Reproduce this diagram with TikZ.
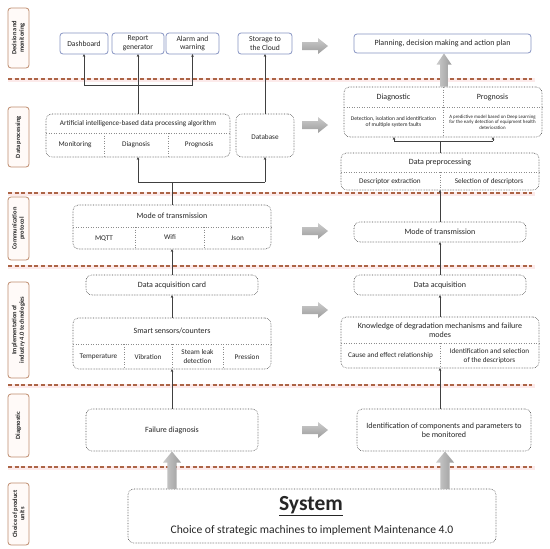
\documentclass[tikz,border=0pt]{standalone}
\usepackage{fontspec}
\setmainfont{Carlito}
\usetikzlibrary{arrows.meta}
\newcommand\myfs[1]{\fontsize{#1pt}{1.16\dimexpr#1pt\relax}\selectfont}
\newcommand\RArr[1]{\shade[top color=gray!40, bottom color=gray!78] (302,#1-4) -- (318,#1-4) -- (318,#1-8) -- (328,#1) -- (318,#1+8) -- (318,#1+4) -- (302,#1+4) -- cycle;}
\newcommand\UArr[5]{\shade[left color=gray!40, right color=gray!78] (#1-#4,#2) -- (#1-#4,#3+11) -- (#1-#5,#3+11) -- (#1,#3) -- (#1+#5,#3+11) -- (#1+#4,#3+11) -- (#1+#4,#2) -- cycle;}
\begin{document}
\begin{tikzpicture}[x=1pt,y=-1pt,
  every node/.style={inner sep=0pt, outer sep=0pt, text=black!85},
  tbox/.style={draw={rgb,255:red,135;green,148;blue,195}, line width=0.8pt, rounded corners=3pt, fill=white, align=center, font=\myfs{7.6}},
  dbox/.style={draw=black!70, densely dotted, line width=0.6pt, rounded corners=6pt},
  div/.style={draw=black!45, dotted, line width=0.5pt},
  lab/.style={draw={rgb,255:red,190;green,140;blue,110}, fill={rgb,255:red,255;green,250;blue,248}, rounded corners=3pt, line width=0.8pt, rotate=90, align=center, font=\bfseries\myfs{6.4}, minimum height=21pt},
  hd/.style={align=center, font=\myfs{8}},
  cell/.style={align=center, font=\myfs{7.2}},
  con/.style={draw=black!75, line width=0.7pt},
  arr/.style={con, -{Stealth[length=3pt,width=2.6pt]}},
  sepline/.style={draw={rgb,255:red,172;green,100;blue,70}, line width=1.1pt, dash pattern=on 4pt off 2.6pt},
  halo/.style={draw={rgb,255:red,252;green,234;blue,234}, line width=4pt}
]
\fill[white] (0,0) rectangle (550,549);
\useasboundingbox (0,0) rectangle (550,549);

% separators
\foreach \yy in {79,193,266,385,467} {
  \draw[halo] (8,\yy+1) -- (535,\yy+1);
  \draw[sepline] (8,\yy) -- (532,\yy);
}

% left labels
\node[lab, minimum width=60pt] (l1) at (18.5,38) {Decision and\\monitoring};
\node[lab, minimum width=60pt] (l2) at (18.5,137) {Data processing};
\node[lab, minimum width=63pt] (l3) at (18.5,228.5) {Communication\\protocol};
\node[lab, minimum width=96pt] (l4) at (18.5,330) {Implementation of\\industry 4.0 technologies};
\node[lab, minimum width=63pt] (l5) at (18.5,425.5) {Diagnostic};
\node[lab, minimum width=62pt] (l6) at (18.5,514) {Choice of product\\units};

% top row
\node[tbox, minimum width=48pt, minimum height=21pt] (dash) at (84,43.5) {Dashboard};
\node[tbox, minimum width=52pt, minimum height=21pt] (rep) at (138,43.5) {Report\\generator};
\node[tbox, minimum width=53pt, minimum height=21pt] (alarm) at (192.5,43.5) {Alarm and\\warning};
\node[tbox, minimum width=54pt, minimum height=21pt] (store) at (265,43.5) {Storage to\\the Cloud};
\node[tbox, minimum width=177pt, minimum height=19pt, font=\myfs{8}] (plan) at (442.5,43.5) {Planning, decision making and action plan};

% AI box
\node[dbox, minimum width=184pt, minimum height=43pt] (ai) at (138,135.5) {};
\draw[div] (46,133) -- (230,133);
\draw[div] (104,133) -- (104,157);
\draw[div] (168,133) -- (168,157);
\node[cell] (aih) at (138,123.5) {Artificial intelligence-based data processing algorithm};
\node[cell] (aim) at (75,145) {Monitoring};
\node[cell] (aid) at (136,145) {Diagnosis};
\node[cell] (aip) at (199,145) {Prognosis};
% database
\node[dbox, minimum width=58pt, minimum height=43pt] (db) at (265,135.5) {};
\node[cell] (dbt) at (265,137) {Database};

% diagnostic / prognosis
\node[dbox, minimum width=198pt, minimum height=50pt] (dp) at (443,112) {};
\draw[div] (344,107) -- (542,107);
\draw[div] (443,87) -- (443,137);
\node[hd] (dph1) at (393.5,97) {Diagnostic};
\node[hd] (dph2) at (492.5,97) {Prognosis};
\node[align=center, font=\myfs{5.6}] (dpt1) at (393.5,122) {Detection, isolation and identification\\of multiple system faults};
\node[align=center, font=\myfs{4.9}] (dpt2) at (492.5,122) {A predictive model based on Deep Learning\\for the early detection of equipment health\\deterioration};

% data preprocessing
\node[dbox, minimum width=198pt, minimum height=37pt] (prep) at (440,171.5) {};
\draw[div] (341,172) -- (539,172);
\draw[div] (440,172) -- (440,190);
\node[hd] (preph) at (440,162) {Data preprocessing};
\node[cell] (prep1) at (390,181.5) {Descriptor extraction};
\node[cell] (prep2) at (489,181.5) {Selection of descriptors};

% mode of transmission left
\node[dbox, minimum width=198pt, minimum height=44pt] (modeL) at (172,227) {};
\draw[div] (73,227) -- (271,227);
\draw[div] (135,227) -- (135,249);
\draw[div] (204,227) -- (204,249);
\node[hd] (modeLh) at (172,216) {Mode of transmission};
\node[cell] (mqtt) at (104,238.5) {MQTT};
\node[cell] (wifi) at (170,237.5) {Wifi};
\node[cell] (json) at (237.5,238.5) {Json};

% mode of transmission right
\node[dbox, minimum width=172pt, minimum height=20pt] (modeR) at (440,232) {};
\node[hd] (modeRt) at (440,232) {Mode of transmission};

% data acquisition
\node[dbox, minimum width=172pt, minimum height=20pt] (card) at (172,285) {};
\node[hd] (cardt) at (172,285) {Data acquisition card};
\node[dbox, minimum width=172pt, minimum height=20pt] (acq) at (440,285) {};
\node[hd] (acqt) at (440,285) {Data acquisition};

% sensors
\node[dbox, minimum width=198pt, minimum height=51pt] (sens) at (172,343.5) {};
\draw[div] (73,344) -- (271,344);
\draw[div] (124,344) -- (124,369);
\draw[div] (172,344) -- (172,369);
\draw[div] (223,344) -- (223,369);
\node[hd] (sensh) at (172,331) {Smart sensors/counters};
\node[cell] (s1) at (98.5,357) {Temperature};
\node[cell] (s2) at (148,357) {Vibration};
\node[cell] (s3) at (197.5,356.5) {Steam leak\\detection};
\node[cell] (s4) at (247,357) {Pression};

% knowledge
\node[dbox, minimum width=198pt, minimum height=51pt] (know) at (440,342.5) {};
\draw[div] (341,343) -- (539,343);
\draw[div] (440,343) -- (440,368);
\node[hd] (knowh) at (440,330.5) {Knowledge of degradation mechanisms and failure\\modes};
\node[cell] (k1) at (390.5,356) {Cause and effect relationship};
\node[cell] (k2) at (489.5,356) {Identification and selection\\of the descriptors};

% diagnostic row
\node[dbox, minimum width=172pt, minimum height=42pt] (fail) at (172,430) {};
\node[hd] (failt) at (172,430) {Failure diagnosis};
\node[dbox, minimum width=174pt, minimum height=42pt] (ident) at (444,430) {};
\node[hd] (identt) at (444,430) {Identification of components and parameters to\\be monitored};

% system
\node[dbox, minimum width=368pt, minimum height=54pt] (sys) at (312,516) {};
\node[font=\bfseries\myfs{21.5}] (syst) at (311,506) {\underline{System}};
\node[font=\myfs{11.6}] (syss) at (312,530) {Choice of strategic machines to implement Maintenance 4.0};

% connectors
\coordinate (bt) at (138,85);
\draw[con] (ai.north) -- (bt);
\draw[con] (dash.south |- bt) -- (alarm.south |- bt);
\draw[arr] (dash.south |- bt) -- (dash.south);
\draw[arr] (bt) -- (rep.south);
\draw[arr] (alarm.south |- bt) -- (alarm.south);
\draw[arr] (db.north) -- (store.south);

\coordinate (bb) at (172,182);
\draw[con] (modeL.north) -- (bb);
\draw[con] (ai.south |- bb) -- (db.south |- bb);
\draw[arr] (ai.south |- bb) -- (ai.south);
\draw[arr] (db.south |- bb) -- (db.south);
\draw[arr] (card.north) -- (modeL.south);
\draw[arr] (sens.north) -- (card.south);
\draw[arr] (fail.north) -- (sens.south);

\coordinate (pb) at (440,141);
\coordinate (pbl) at (394,141);
\coordinate (pbr) at (493,141);
\draw[con] (prep.north) -- (pb);
\draw[con] (pbl) -- (pbr);
\draw[arr] (pbl) -- (pbl |- dp.south);
\draw[arr] (pbr) -- (pbr |- dp.south);
\draw[arr] (modeR.north) -- (prep.south);
\draw[arr] (acq.north) -- (modeR.south);
\draw[arr] (know.north) -- (acq.south);
\draw[arr] (know.south |- ident.north) -- (know.south);

% block arrows
\RArr{46}
\RArr{125}
\RArr{231}
\RArr{310}
\RArr{430}
\UArr{444}{86.5}{53.5}{3.8}{7.5}
\UArr{172}{489}{451.5}{4.6}{9}
\UArr{445}{489}{451.5}{4.6}{9}
\end{tikzpicture}
\end{document}
